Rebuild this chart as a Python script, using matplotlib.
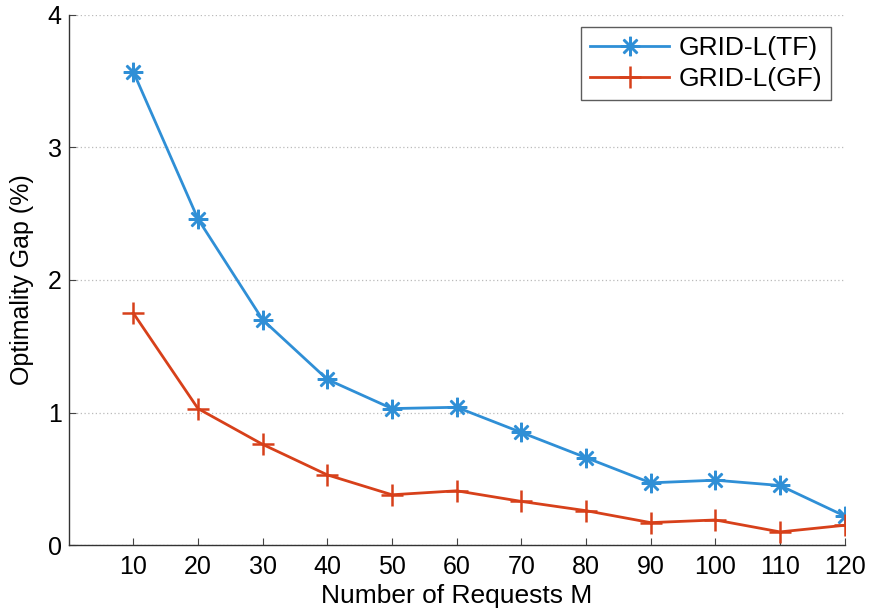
import matplotlib
matplotlib.use("Agg")
from matplotlib import pyplot as plt

# data
requests = [10, 20, 30, 40, 50, 60, 70, 80, 90, 100, 110, 120]
gap_tf = [3.57, 2.46, 1.70, 1.25, 1.03, 1.04, 0.85, 0.66, 0.47, 0.49, 0.45, 0.22]
gap_gf = [1.75, 1.03, 0.76, 0.53, 0.38, 0.41, 0.33, 0.26, 0.17, 0.19, 0.10, 0.15]
y_ticks = [0, 1, 2, 3, 4]

plt.rcParams["font.family"] = ["Liberation Sans", "DejaVu Sans"]

fig = plt.figure(figsize=(8.69, 6.16), dpi=100)
ax = fig.add_axes([0.079, 0.115, 0.893, 0.861])

ax.plot(requests, gap_tf, color="#2f8fd6", lw=2, marker=(8, 2, 0), ms=14,
        mew=1.8, label="GRID-L(TF)")
ax.plot(requests, gap_gf, color="#d7401a", lw=2, marker="+", ms=16,
        mew=1.8, label="GRID-L(GF)")

ax.set_xlim(0, 120)
ax.set_ylim(0, 4)
ax.set_xticks(requests)
ax.set_yticks(y_ticks)
ax.tick_params(direction="in", length=5, labelsize=18, color="#444444")
ax.tick_params(axis="x", pad=7)
ax.tick_params(axis="y", pad=5)
ax.yaxis.grid(True, linestyle=(0, (1, 2)), color="#bbbbbb", lw=0.9)
ax.set_axisbelow(True)
for s in ["top", "right"]:
    ax.spines[s].set_visible(False)
for s in ["left", "bottom"]:
    ax.spines[s].set_color("#333333")
    ax.spines[s].set_linewidth(1.0)

ax.set_xlabel("Number of Requests M", fontsize=19, labelpad=4)
ax.set_ylabel("Optimality Gap (%)", fontsize=18, labelpad=10)

leg = ax.legend(loc="upper right", bbox_to_anchor=(0.983, 0.977), borderaxespad=0,
                fontsize=19, fancybox=False, edgecolor="#333333", handlelength=3.0,
                borderpad=0.35, labelspacing=0.25, handletextpad=0.35)
leg.get_frame().set_linewidth(1.0)

fig.savefig("out.png", dpi=100)
